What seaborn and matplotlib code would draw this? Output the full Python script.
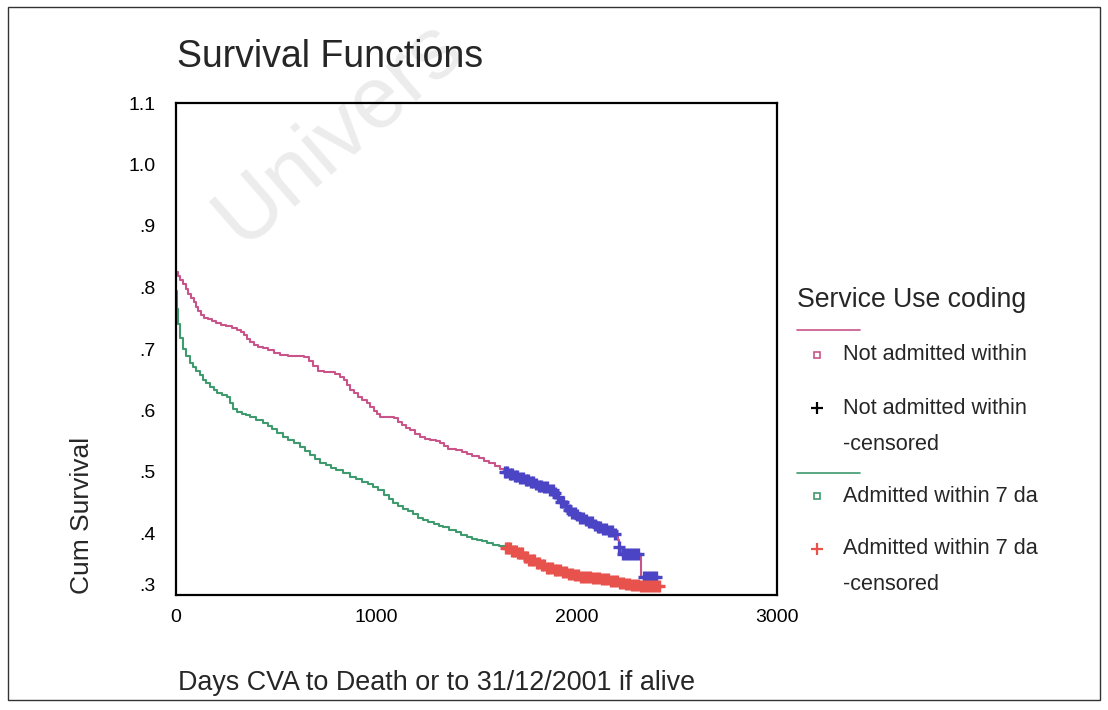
import numpy as np
import pandas as pd
import seaborn as sns
import matplotlib.pyplot as plt
from matplotlib.lines import Line2D
from matplotlib.patches import Rectangle

# Kaplan-Meier steps: "Not admitted within"
not_adm_time = [0, 8, 20, 35, 50, 62, 75, 88, 100, 112, 125, 140, 160, 180, 200, 225,
                250, 280, 305, 325, 340, 355, 370, 390, 410, 435, 460, 490, 520, 560,
                600, 640, 665, 685, 710, 740, 770, 795, 820, 840, 855, 870, 890, 910,
                930, 953, 970, 990, 1005, 1020, 1050, 1087, 1110, 1130, 1150, 1170,
                1195, 1220, 1245, 1270, 1300, 1320, 1340, 1360, 1400, 1430, 1453, 1480,
                1510, 1535, 1560, 1590, 1615, 1635, 1660, 1690, 1715, 1740, 1765, 1785,
                1810, 1830, 1860, 1885, 1905, 1920, 1940, 1955, 1975, 1995, 2015, 2035,
                2060, 2080, 2100, 2120, 2150, 2185, 2205, 2212, 2225, 2320, 2405]
not_adm_surv = [0.825, 0.819, 0.812, 0.806, 0.798, 0.790, 0.783, 0.776, 0.768, 0.762,
                0.756, 0.751, 0.748, 0.745, 0.742, 0.739, 0.737, 0.734, 0.731, 0.727,
                0.722, 0.716, 0.711, 0.707, 0.704, 0.701, 0.698, 0.694, 0.690, 0.689,
                0.688, 0.687, 0.680, 0.672, 0.665, 0.663, 0.662, 0.659, 0.654, 0.649,
                0.642, 0.634, 0.628, 0.622, 0.617, 0.612, 0.606, 0.600, 0.595, 0.590,
                0.589, 0.587, 0.582, 0.577, 0.572, 0.568, 0.562, 0.557, 0.554, 0.552,
                0.550, 0.547, 0.542, 0.538, 0.535, 0.533, 0.530, 0.526, 0.522, 0.518,
                0.515, 0.510, 0.505, 0.500, 0.497, 0.493, 0.490, 0.487, 0.484, 0.481,
                0.478, 0.475, 0.471, 0.466, 0.459, 0.452, 0.445, 0.439, 0.434, 0.430,
                0.426, 0.422, 0.418, 0.414, 0.411, 0.408, 0.404, 0.400, 0.390, 0.378,
                0.366, 0.329, 0.329]

# "Admitted within 7 days"
adm_time = [0, 5, 12, 22, 35, 50, 70, 85, 100, 118, 135, 150, 170, 190, 205, 230, 255,
            270, 285, 305, 330, 350, 370, 400, 435, 460, 480, 505, 535, 560, 590, 620,
            645, 670, 695, 720, 750, 775, 800, 835, 870, 900, 930, 960, 985, 1010, 1040,
            1065, 1085, 1110, 1135, 1160, 1185, 1210, 1235, 1260, 1290, 1315, 1335, 1365,
            1400, 1425, 1453, 1480, 1500, 1525, 1553, 1580, 1610, 1645, 1675, 1700, 1730,
            1755, 1790, 1820, 1850, 1885, 1920, 1950, 1985, 2020, 2070, 2120, 2160, 2205,
            2240, 2270, 2320, 2420]
adm_surv = [0.795, 0.765, 0.740, 0.718, 0.700, 0.688, 0.677, 0.670, 0.664, 0.657, 0.650,
            0.644, 0.638, 0.633, 0.628, 0.625, 0.622, 0.612, 0.602, 0.598, 0.595, 0.592,
            0.589, 0.585, 0.580, 0.575, 0.570, 0.564, 0.557, 0.552, 0.547, 0.541, 0.534,
            0.527, 0.521, 0.515, 0.511, 0.507, 0.503, 0.498, 0.492, 0.488, 0.484, 0.480,
            0.476, 0.470, 0.463, 0.456, 0.450, 0.445, 0.440, 0.436, 0.431, 0.426, 0.422,
            0.419, 0.416, 0.413, 0.411, 0.406, 0.402, 0.398, 0.394, 0.391, 0.389, 0.387,
            0.385, 0.382, 0.379, 0.376, 0.372, 0.368, 0.362, 0.357, 0.352, 0.348, 0.344,
            0.340, 0.337, 0.334, 0.332, 0.330, 0.328, 0.326, 0.323, 0.320, 0.318, 0.316,
            0.314, 0.313]

# censoring times (survivors at 31/12/2001)
not_adm_cens = [1640, 1652, 1665, 1678, 1690, 1703, 1716, 1730, 1745, 1758, 1770, 1784,
                1797, 1810, 1824, 1838, 1851, 1865, 1880, 1893, 1906, 1920, 1934, 1948,
                1961, 1975, 1990, 2004, 2018, 2032, 2046, 2060, 2075, 2090, 2104, 2118,
                2132, 2146, 2160, 2175, 2190, 2212, 2230, 2245, 2260, 2275, 2290, 2305,
                2335, 2350, 2365, 2380, 2395]
adm_cens = [1648, 1658, 1668, 1678, 1688, 1698, 1708, 1718, 1728, 1740, 1752, 1764, 1776,
            1788, 1800, 1812, 1825, 1838, 1850, 1863, 1876, 1890, 1904, 1918, 1932, 1946,
            1960, 1975, 1990, 2005, 2020, 2035, 2050, 2065, 2080, 2095, 2110, 2125, 2140,
            2155, 2170, 2185, 2200, 2215, 2230, 2245, 2260, 2275, 2290, 2305, 2320, 2335,
            2350, 2365, 2380, 2395, 2410]

y_ticks = [0.3, 0.4, 0.5, 0.6, 0.7, 0.8, 0.9, 1.0, 1.1]
y_tick_labels = [".3", ".4", ".5", ".6", ".7", ".8", ".9", "1.0", "1.1"]
x_ticks = [0, 1000, 2000, 3000]

pink = "#c9548a"
green = "#3f9a6e"
blue = "#4b44c4"
red = "#e8524c"


def surv_at(times, surv, t):
    idx = np.searchsorted(times, t, side="right") - 1
    return np.asarray(surv)[idx]


sns.set_style("white")
plt.rcParams["font.family"] = ["Liberation Sans", "DejaVu Sans"]

W, H = 1108, 710
fig = plt.figure(figsize=(W / 100, H / 100), dpi=100)
ax = fig.add_axes([176 / W, 1 - 595 / H, 601 / W, 492 / H])
ax.patch.set_alpha(0)


def fx(x):
    return x / W


def fy(y):
    return 1 - y / H


df_na = pd.DataFrame({"t": not_adm_time, "s": not_adm_surv})
df_a = pd.DataFrame({"t": adm_time, "s": adm_surv})
sns.lineplot(data=df_na, x="t", y="s", drawstyle="steps-post", color=pink,
             linewidth=1.5, estimator=None, ax=ax)
sns.lineplot(data=df_a, x="t", y="s", drawstyle="steps-post", color=green,
             linewidth=1.5, estimator=None, ax=ax)

cens_na = pd.DataFrame({"t": not_adm_cens,
                        "s": surv_at(not_adm_time, not_adm_surv, not_adm_cens)})
cens_a = pd.DataFrame({"t": adm_cens, "s": surv_at(adm_time, adm_surv, adm_cens)})
sns.scatterplot(data=cens_na, x="t", y="s", marker="+", s=75, linewidth=2.4,
                color=blue, ax=ax, zorder=3)
sns.scatterplot(data=cens_a, x="t", y="s", marker="+", s=75, linewidth=2.4,
                color=red, ax=ax, zorder=3)

ax.set_xlim(0, 3000)
ax.set_ylim(0.3, 1.1)
ax.set_xticks(x_ticks)
ax.set_xticklabels([str(v) for v in x_ticks])
ax.set_yticks(y_ticks)
ax.set_yticklabels(y_tick_labels)
ax.set_xlabel("")
ax.set_ylabel("")
for sp in ax.spines.values():
    sp.set_visible(True)
    sp.set_color("black")
    sp.set_linewidth(1.6)
ax.tick_params(axis="both", direction="out", length=5, width=1.5, color="black",
               labelsize=14, labelcolor="black")
ax.tick_params(axis="y", pad=10)
ax.tick_params(axis="x", pad=5)
ax.get_yticklabels()[0].set_va("bottom")

# titles
fig.text(fx(177), fy(57), "Survival Functions", fontsize=27, ha="left", va="center")
fig.text(fx(82), fy(515), "Cum Survival", fontsize=19, rotation=90,
         ha="center", va="center")
fig.text(fx(178), fy(683), "Days CVA to Death or to 31/12/2001 if alive",
         fontsize=19.4, ha="left", va="center")

# legend, drawn by hand as in the original
fs = 15.6
fig.text(fx(797), fy(300), "Service Use coding", fontsize=19.2, ha="left", va="center")
fig.add_artist(Line2D([fx(797), fx(860)], [fy(330), fy(330)], color=pink, lw=1.2,
                      transform=fig.transFigure))
fig.add_artist(Line2D([fx(817)], [fy(355)], marker="s", ms=5, mfc="none", mec=pink,
                      mew=1.2, transform=fig.transFigure))
fig.text(fx(843), fy(355), "Not admitted within", fontsize=fs, va="center")
fig.add_artist(Line2D([fx(817)], [fy(408)], marker="+", ms=9, mec="black", mew=1.6,
                      transform=fig.transFigure))
fig.text(fx(843), fy(408), "Not admitted within", fontsize=fs, va="center")
fig.text(fx(843), fy(444), "-censored", fontsize=fs, va="center")
fig.add_artist(Line2D([fx(797), fx(860)], [fy(473), fy(473)], color=green, lw=1.2,
                      transform=fig.transFigure))
fig.add_artist(Line2D([fx(817)], [fy(496)], marker="s", ms=5, mfc="none", mec=green,
                      mew=1.2, transform=fig.transFigure))
fig.text(fx(843), fy(496), "Admitted within 7 da", fontsize=fs, va="center")
fig.add_artist(Line2D([fx(817)], [fy(549)], marker="+", ms=9, mec=red, mew=1.6,
                      transform=fig.transFigure))
fig.text(fx(843), fy(549), "Admitted within 7 da", fontsize=fs, va="center")
fig.text(fx(843), fy(584), "-censored", fontsize=fs, va="center")

# outer frame of the scanned page
fig.add_artist(Rectangle((fx(8), fy(700)), fx(1100) - fx(8), fy(7) - fy(700),
                         fill=False, ec="#333333", lw=1.0, transform=fig.transFigure))

# faint watermark, visible part only
fig.text(fx(200), fy(243), "Univers", fontsize=63, rotation=41,
         color="#ececec", ha="left", va="baseline", zorder=-1)

fig.savefig("out.png", dpi=100)
